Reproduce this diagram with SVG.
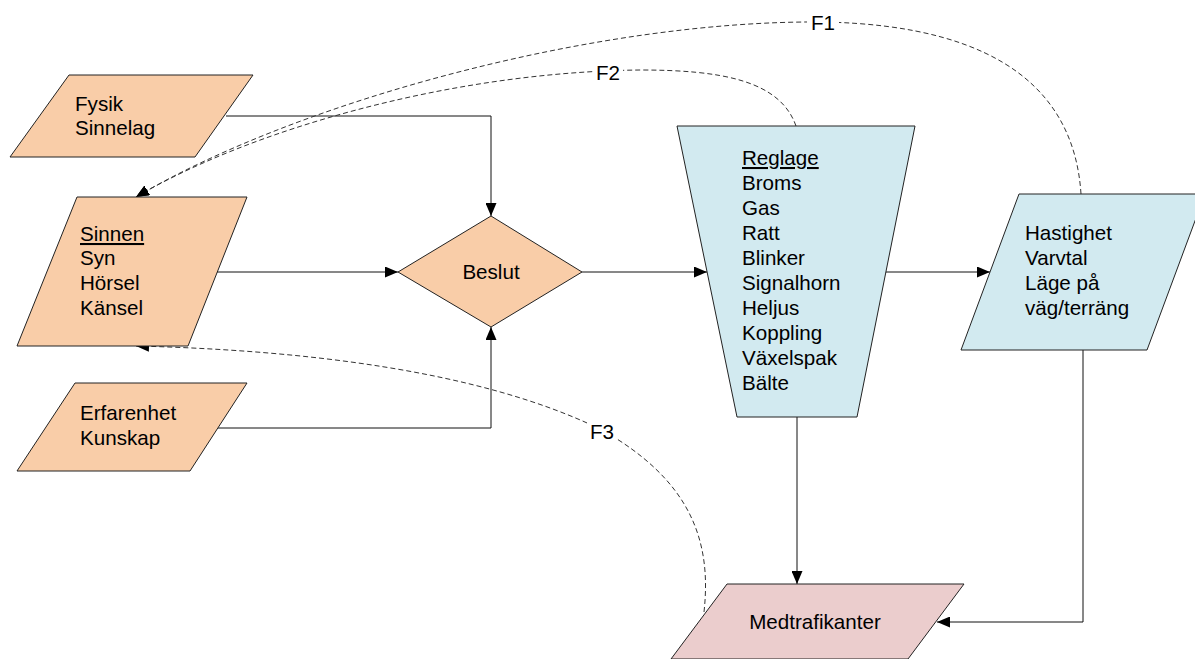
<svg xmlns="http://www.w3.org/2000/svg" width="1195" height="659" viewBox="0 0 1195 659">
  <style>
    .txt { font-family: "Liberation Sans", Arial, sans-serif; font-size: 20.6px; fill: #000; }
    .orange { fill: #F9CDA8; stroke: #222; stroke-width: 1; }
    .blue { fill: #D2EAF0; stroke: #222; stroke-width: 1; }
    .pink { fill: #EBCDCD; stroke: #222; stroke-width: 1; }
    .link { fill: none; stroke: #111; stroke-width: 1; }
    .fb { fill: none; stroke: #333; stroke-width: 1; stroke-dasharray: 5 3; }
  </style>
  <defs>
    <marker id="arrow" viewBox="0 0 13 11" refX="13" refY="5.5" markerWidth="13" markerHeight="11" markerUnits="userSpaceOnUse" orient="auto">
      <path d="M0,0 L13,5.5 L0,11 Z" fill="#000"/>
    </marker>
  </defs>
  <rect width="1195" height="659" fill="#fff"/>

  <g id="connectors">
    <polyline class="link" points="226,116 491,116 491,216" marker-end="url(#arrow)"/>
    <line class="link" x1="217" y1="272" x2="398" y2="272" marker-end="url(#arrow)"/>
    <polyline class="link" points="218,428 491,428 491,327" marker-end="url(#arrow)"/>
    <line class="link" x1="582" y1="272" x2="707" y2="272" marker-end="url(#arrow)"/>
    <line class="link" x1="885" y1="272" x2="990" y2="272" marker-end="url(#arrow)"/>
    <polyline class="link" points="797,417 797,584" marker-end="url(#arrow)"/>
    <polyline class="link" points="1083,350 1083,622 937,622" marker-end="url(#arrow)"/>

    <!-- feedback loops -->
    <path class="fb" d="M1081,194 C1075,100 1010,25 822,22 C600,20 300,100 136,197" marker-end="url(#arrow)"/>
    <path class="fb" d="M796,126 C780,80 720,70 640,70 C450,72 250,130 136,197" marker-end="url(#arrow)"/>
    <path class="fb" d="M704,612 C712,540 690,480 602,430 C480,370 300,350 136,346" marker-end="url(#arrow)"/>
    <rect x="807" y="11" width="32" height="23" fill="#fff"/>
    <text class="txt" x="823" y="30" text-anchor="middle">F1</text>
    <rect x="593" y="61" width="30" height="23" fill="#fff"/>
    <text class="txt" x="608" y="80" text-anchor="middle">F2</text>
    <rect x="587" y="420" width="30" height="23" fill="#fff"/>
    <text class="txt" x="602" y="439" text-anchor="middle">F3</text>
  </g>

  <g id="fysik">
    <polygon class="orange" points="69,75 253,75 195,157 10,157"/>
    <text class="txt" x="75" y="111">Fysik</text>
    <text class="txt" x="75" y="135">Sinnelag</text>
  </g>

  <g id="sinnen">
    <polygon class="orange" points="77,197 247,197 188,346 17,346"/>
    <text class="txt" x="80" y="241" text-decoration="underline">Sinnen</text>
    <text class="txt" x="80" y="265">Syn</text>
    <text class="txt" x="80" y="290">Hörsel</text>
    <text class="txt" x="80" y="315">Känsel</text>
  </g>

  <g id="erfarenhet">
    <polygon class="orange" points="75,383 247,383 190,471 17,471"/>
    <text class="txt" x="80" y="420">Erfarenhet</text>
    <text class="txt" x="80" y="445">Kunskap</text>
  </g>

  <g id="beslut">
    <polygon class="orange" points="398,272 491,216 582,272 491,327"/>
    <text class="txt" x="491" y="279" text-anchor="middle">Beslut</text>
  </g>

  <g id="reglage">
    <polygon class="blue" points="677,126 915,126 857,417 737,417"/>
    <text class="txt" x="742" y="165" text-decoration="underline">Reglage</text>
    <text class="txt" x="742" y="190">Broms</text>
    <text class="txt" x="742" y="215">Gas</text>
    <text class="txt" x="742" y="240">Ratt</text>
    <text class="txt" x="742" y="265">Blinker</text>
    <text class="txt" x="742" y="290">Signalhorn</text>
    <text class="txt" x="742" y="315">Heljus</text>
    <text class="txt" x="742" y="340">Koppling</text>
    <text class="txt" x="742" y="365">Växelspak</text>
    <text class="txt" x="742" y="390">Bälte</text>
  </g>

  <g id="hastighet">
    <polygon class="blue" points="1019,194 1205,194 1147,350 961,350"/>
    <text class="txt" x="1025" y="240">Hastighet</text>
    <text class="txt" x="1025" y="265">Varvtal</text>
    <text class="txt" x="1025" y="290">Läge på</text>
    <text class="txt" x="1025" y="315">väg/terräng</text>
  </g>

  <g id="medtrafikanter">
    <polygon class="pink" points="727,584 964,584 908,659 671,659"/>
    <text class="txt" x="815" y="629" text-anchor="middle">Medtrafikanter</text>
  </g>
</svg>
